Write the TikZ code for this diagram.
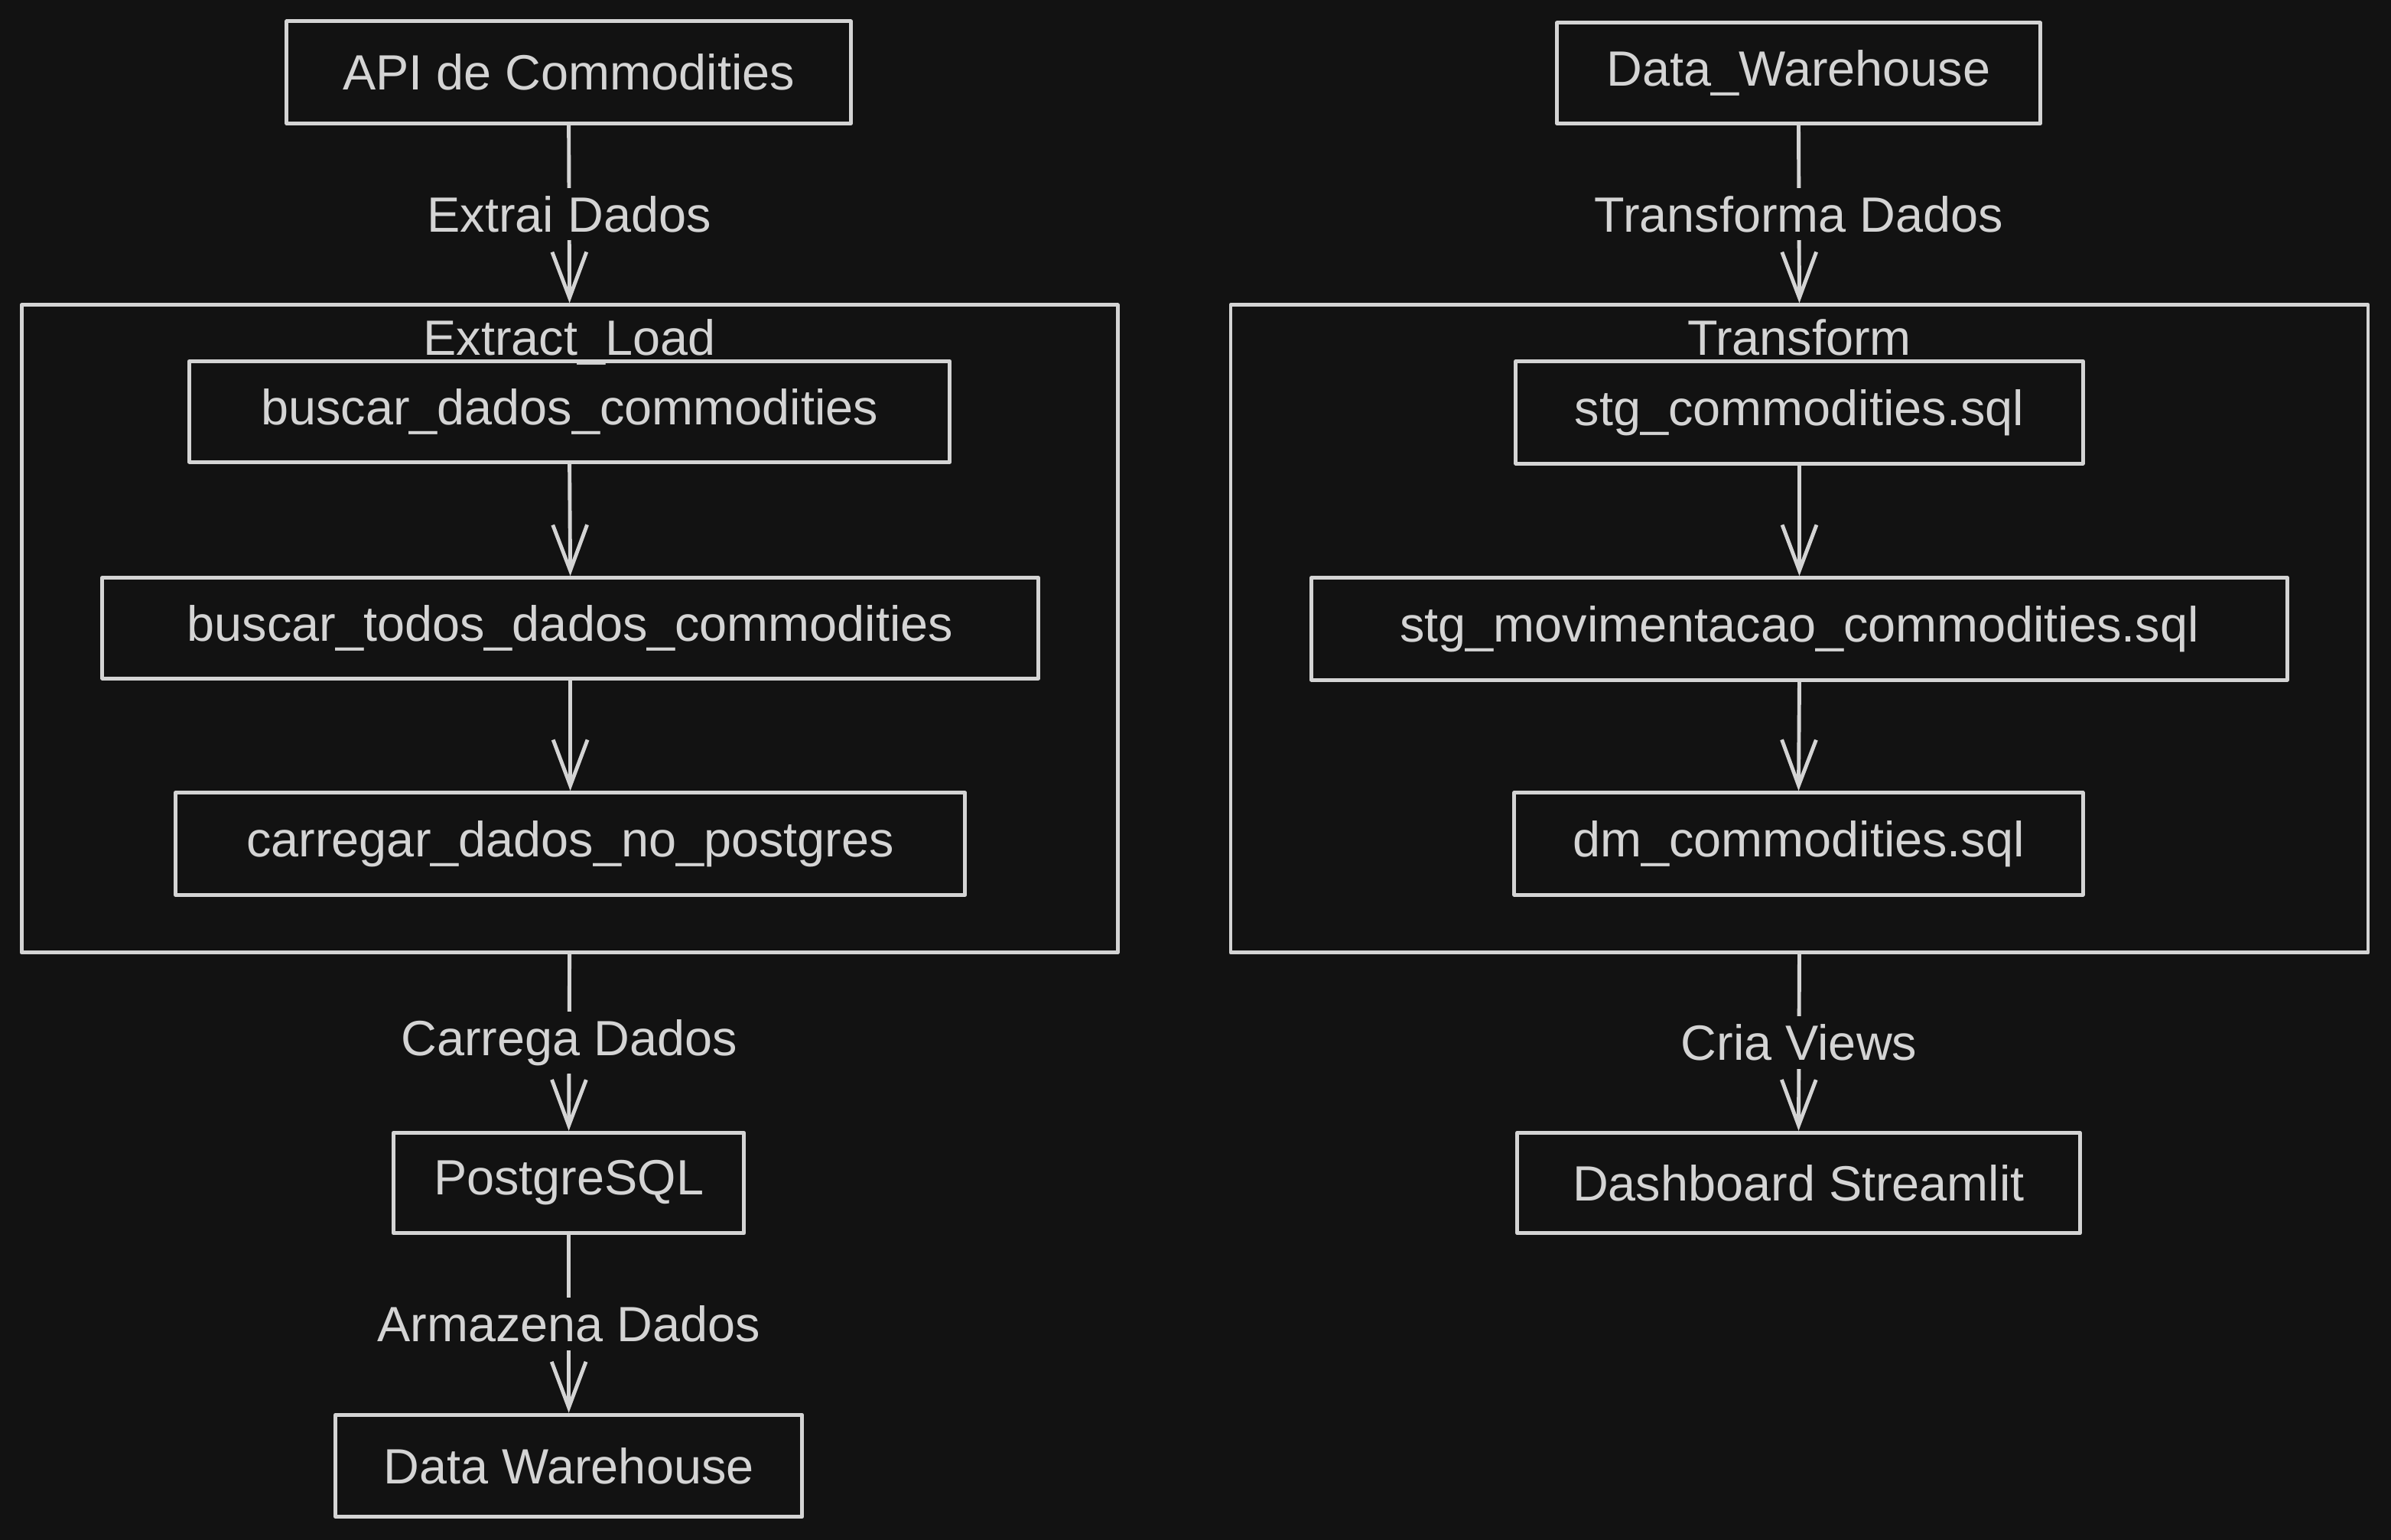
\documentclass[tikz,border=0pt]{standalone}
\usepackage{fontspec}
\setmainfont{Liberation Sans}
\usetikzlibrary{arrows.meta}
\definecolor{bg}{HTML}{121212}
\definecolor{ink}{HTML}{D4D4D4}
\tikzset{
  ink/.style={draw=ink, line width=1.4pt, line join=round},
  box/.style={ink, fill=bg, rectangle, inner sep=0pt, text=ink, font=\fontsize{18.5}{22}\selectfont},
  cluster/.style={ink, rectangle, inner sep=0pt},
  ctitle/.style={text=ink, inner sep=0pt, font=\fontsize{18.5}{22}\selectfont},
  flow/.style={ink, line cap=round, -{Straight Barb[length=0.6cm, width=0.45cm, line width=1.4pt]}},
  lbl/.style={fill=bg, text=ink, inner sep=3pt, font=\fontsize{18.5}{22}\selectfont}
}
\begin{document}
\begin{tikzpicture}[x=0.02cm, y=-0.02cm]
\fill[bg] (0,0) rectangle (1568,1010);
\useasboundingbox (0,0) rectangle (1568,1010);

% left column
\node[box, minimum width=7.4cm, minimum height=1.34cm] (api) at (373,47.5) {API de Commodities};
\node[cluster, minimum width=14.38cm, minimum height=8.5cm] (el) at (373.5,412.5) {};
\node[box, minimum width=9.98cm, minimum height=1.32cm] (b1) at (373.5,270) {buscar\_dados\_commodities};
\node[box, minimum width=12.28cm, minimum height=1.32cm] (b2) at (374,412) {buscar\_todos\_dados\_commodities};
\node[box, minimum width=10.36cm, minimum height=1.34cm] (b3) at (374,553.5) {carregar\_dados\_no\_postgres};
\node[ctitle, anchor=base] (eltitle) at (373.5,233) {Extract\_Load};
\node[box, minimum width=4.6cm, minimum height=1.32cm] (pg) at (373,776) {PostgreSQL};
\node[box, minimum width=6.12cm, minimum height=1.34cm] (dw) at (373,961.5) {Data Warehouse};

\draw[flow] (api.south) -- node[lbl] {Extrai Dados} (el.north);
\draw[flow] (b1.south) -- (b2.north);
\draw[flow] (b2.south) -- (b3.north);
\draw[flow] (el.south) -- node[lbl] {Carrega Dados} (pg.north);
\draw[flow] (pg.south) -- node[lbl] {Armazena Dados} (dw.north);

% right column
\node[box, minimum width=6.34cm, minimum height=1.32cm] (dwu) at (1179.5,48) {Data\_Warehouse};
\node[cluster, minimum width=14.92cm, minimum height=8.5cm] (tr) at (1180,412.5) {};
\node[box, minimum width=7.44cm, minimum height=1.34cm] (s1) at (1180,270.5) {stg\_commodities.sql};
\node[box, minimum width=12.8cm, minimum height=1.34cm] (s2) at (1180,412.5) {stg\_movimentacao\_commodities.sql};
\node[box, minimum width=7.46cm, minimum height=1.34cm] (s3) at (1179.5,553.5) {dm\_commodities.sql};
\node[ctitle, anchor=base] (trtitle) at (1180,233) {Transform};
\node[box, minimum width=7.38cm, minimum height=1.32cm] (dash) at (1179.5,776) {Dashboard Streamlit};

\draw[flow] (dwu.south) -- node[lbl] {Transforma Dados} (tr.north);
\draw[flow] (s1.south) -- (s2.north);
\draw[flow] (s2.south) -- (s3.north);
\draw[flow] (tr.south) -- node[lbl] {Cria Views} (dash.north);
\end{tikzpicture}
\end{document}
